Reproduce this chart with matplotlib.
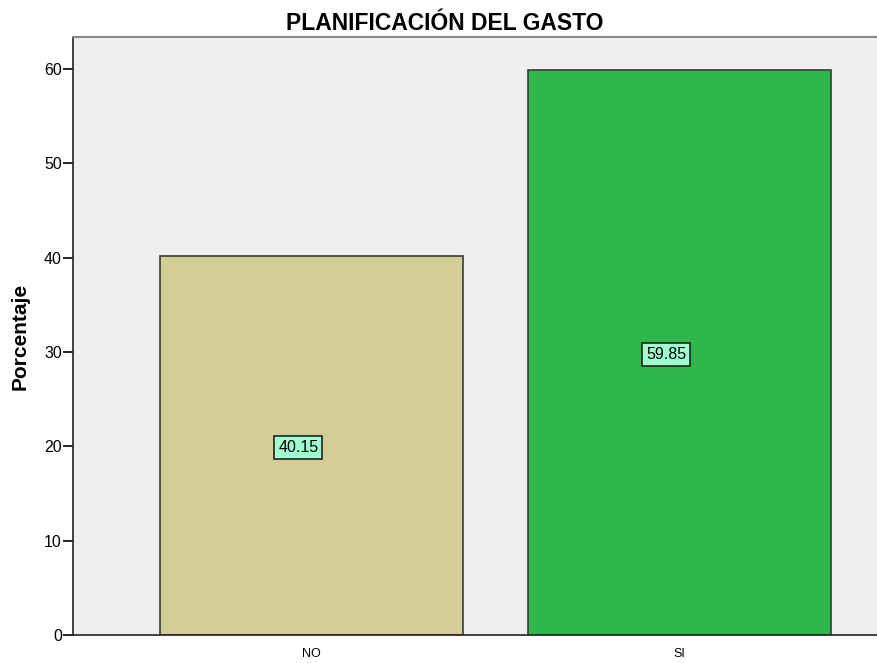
import matplotlib.pyplot as plt

plt.rcParams['font.family'] = ['Liberation Sans', 'DejaVu Sans']

# Data
categories = ["NO", "SI"]
percent = [40.15, 59.85]
colors = ["#D3CE98", "#2EB84B"]

fig = plt.figure(figsize=(8.77, 6.63), dpi=100)
ax = fig.add_axes([0.0832, 0.0422, 0.9168, 0.9020])
ax.set_facecolor("#EFEFEF")

x = range(len(categories))
ax.bar(x, percent, width=0.823, color=colors, edgecolor="#3a3a3a", linewidth=1.2)

# value boxes sit a little left of the bar centre, as in the original
for xi, v in zip(x, percent):
    ax.annotate(f"{v:.2f}", xy=(xi, v / 2), xytext=(-9.5, -1), textcoords="offset points",
                ha="center", va="center", fontsize=11.5,
                bbox=dict(boxstyle="square,pad=0.25", facecolor="#A0FFCF",
                          edgecolor="#222222", linewidth=1.2))

ax.set_xlim(-0.648, 1.537)
ax.set_ylim(0, 63.4)
ax.set_xticks(list(x))
ax.set_xticklabels(categories, fontsize=9)
ax.set_yticks(range(0, 61, 10))
ax.tick_params(axis="y", labelsize=11.5, length=7, width=1.2, pad=1)
ax.tick_params(axis="x", length=0, pad=9)

ax.set_ylabel("Porcentaje", fontsize=15, fontweight="bold", labelpad=10)
ax.set_title("PLANIFICACIÓN DEL GASTO", fontsize=16.5, fontweight="bold", pad=5, x=0.463)

ax.spines["left"].set_color("#222222")
ax.spines["bottom"].set_color("#222222")
ax.spines["left"].set_linewidth(1.2)
ax.spines["bottom"].set_linewidth(1.2)
ax.spines["top"].set_color("#888888")
ax.spines["top"].set_linewidth(1.5)
ax.spines["right"].set_visible(False)

plt.savefig("out.png", dpi=100)
